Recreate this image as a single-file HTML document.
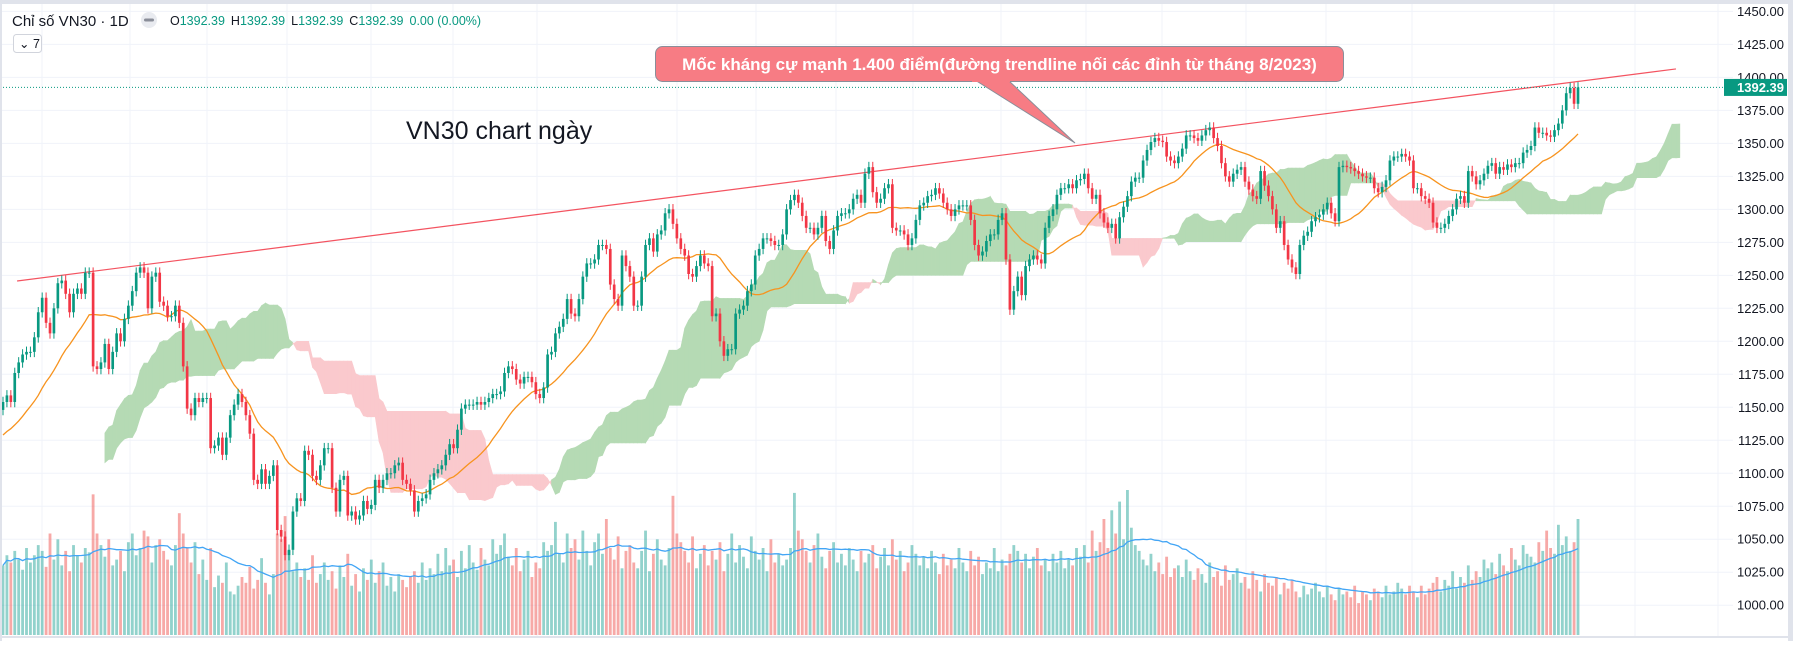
<!DOCTYPE html>
<html><head><meta charset="utf-8">
<style>
html,body{margin:0;padding:0;background:#fff;}
body{width:1793px;height:641px;overflow:hidden;font-family:"Liberation Sans","Noto Sans CJK SC",sans-serif;}
svg text{font-family:"Liberation Sans","Noto Sans CJK SC",sans-serif;}
</style></head>
<body>
<svg id="chart" width="1793" height="641" viewBox="0 0 1793 641" xmlns="http://www.w3.org/2000/svg">
<rect x="0" y="0" width="1793" height="641" fill="#ffffff"/>
<g id="grid"></g>
<g id="volume"></g>
<g id="cloud"></g>
<g id="lines"></g>
<g id="candles"></g>
<g id="axis"></g>
<rect x="0" y="0" width="1793" height="4" fill="#e0e3eb"/>
<rect x="0" y="0" width="2" height="641" fill="#e0e3eb"/>
<rect x="1788" y="0" width="5" height="641" fill="#e0e3eb"/>
<line x1="0" y1="637" x2="1788" y2="637" stroke="#e0e3eb" stroke-width="2"/>
<g>
<text x="12" y="26" font-size="15" fill="#131722">Chỉ số VN30 · 1D</text>
<circle cx="149" cy="20" r="8" fill="#e9ebf0"/>
<rect x="144" y="18.5" width="10" height="3" rx="1.5" fill="#8a8e99"/>
<text x="170" y="25" font-size="12.5"><tspan fill="#131722">O</tspan><tspan fill="#089981">1392.39</tspan><tspan fill="#131722" dx="6">H</tspan><tspan fill="#089981">1392.39</tspan><tspan fill="#131722" dx="6">L</tspan><tspan fill="#089981">1392.39</tspan><tspan fill="#131722" dx="6">C</tspan><tspan fill="#089981">1392.39</tspan><tspan fill="#089981" dx="6">0.00 (0.00%)</tspan></text>
<rect x="13.5" y="34.5" width="28" height="18" rx="3" fill="#fff" stroke="#d1d4dc"/>
<text x="19" y="48" font-size="12.5" fill="#131722">⌄ 7</text>
</g>
<text x="406" y="139" font-size="25" fill="#131722">VN30 chart ngày</text>
<g>
<polygon points="975,80 1008,80 1075,143" fill="#f77c84" stroke="#8a8e99" stroke-width="1"/>
<rect x="655.5" y="46.5" width="688" height="35" rx="7" fill="#f77c84" stroke="#8a8e99" stroke-width="1"/>
<rect x="972" y="78" width="38" height="4" fill="#f77c84"/>
<text x="999.5" y="70" font-size="17" font-weight="bold" fill="#ffffff" text-anchor="middle">Mốc kháng cự mạnh 1.400 điểm(đường trendline nối các đỉnh từ tháng 8/2023)</text>
</g>
</svg>
<script>
// closes before the visible window (only used for indicator warm-up; not drawn)
const preCloses = [
1085,1080,1076,1070,1066,1072,1078,1074,1068,1062,
1066,1070,1075,1082,1088,1084,1090,1096,1092,1098,
1104,1100,1095,1102,1108,1112,1106,1100,1096,1104,
1110,1116,1112,1106,1112,1118,1124,1120,1114,1120,
1126,1130,1124,1118,1126,1132,1138,1134,1140,1146,
1150,1148
];
const closes = [
1154,1159,1154,1176,1184,1190,1192,1192,1203,1222,
1233,1214,1206,1225,1244,1246,1236,1222,1236,1240,
1236,1252,1252,1181,1179,1184,1198,1179,1192,1206,
1200,1217,1227,1238,1252,1256,1252,1225,1249,1252,
1230,1227,1219,1219,1227,1214,1181,1149,1144,1157,
1154,1157,1157,1119,1121,1127,1114,1127,1144,1152,
1160,1154,1144,1130,1095,1092,1103,1092,1098,1106,
1057,1052,1038,1042,1071,1081,1079,1117,1114,1098,
1095,1106,1119,1119,1089,1071,1095,1098,1068,1071,
1065,1068,1079,1073,1076,1095,1089,1095,1100,1100,
1106,1108,1095,1092,1087,1071,1079,1081,1084,1095,
1100,1103,1106,1114,1122,1119,1133,1149,1152,1152,
1152,1154,1152,1154,1157,1160,1160,1162,1176,1181,
1179,1171,1168,1173,1173,1169,1160,1157,1165,1190,
1192,1206,1211,1217,
1232,1221,1219,1232,1249,1259,1259,1262,1273,1273,1270,1243,1232,1227,1265,1257,1249,1227,1227,1249,
1273,1278,1268,1281,1284,1297,1300,1289,1278,1270,1265,1251,1249,1257,1265,1259,1257,1219,1221,1200,
1189,1194,1194,1221,1224,1227,1238,1243,1265,1270,1278,1278,1276,1273,1273,1281,1300,1307,1311,1305,
1295,1286,1286,1281,1286,1295,1276,1270,1284,1295,1297,1297,1300,1308,1311,1305,1327,1332,1313,1305,
1308,1316,1319,1286,1284,1284,1281,1273,1278,1292,1303,1305,1310,1311,1316,1312,1305,1300,1295,1300,
1303,1303,1303,1292,1273,1265,1268,1276,1281,1281,1292,1297,1262,1224,1238,1249,1235,1257,1262,1265,
1262,1259,1286,1295,1300,1311,1316,1316,1319,1316,1322,1323,1327,1316,1308,1311,
1297,1290,1286,1289,1278,1294,1302,1310,1321,1324,1324,1337,1345,1351,1354,1352,1351,1340,1337,1335,
1340,1346,1356,1356,1354,1352,1356,1360,1362,1354,1348,1335,1325,1321,1327,1330,1332,1321,1315,1310,
1308,1329,1318,1310,1300,1286,1291,1273,1262,1256,1251,1273,1280,1283,1291,1294,1296,1300,1305,1297,
1291,1332,1333,1332,1331,1329,1327,1325,1324,1324,1316,1313,1317,1322,1337,1340,1340,1342,1340,1337,
1316,1316,1310,1308,1305,1290,1286,1286,1289,1295,1300,1308,1310,1305,1329,1325,1319,1322,1327,1333,
1335,1327,1332,1330,1334,1332,1335,1335,1343,1345,1348,1362,1358,1358,1356,1355,1360,1365,1375,1388,
1392,1380,1392.39
];
const volumes = [
48,55,50,58,52,45,60,50,55,62,58,47,70,52,66,48,58,44,62,55,
50,60,57,97,70,62,54,66,48,52,58,44,64,70,55,60,72,68,50,62,
66,58,52,48,62,84,70,60,50,64,42,52,38,60,33,41,36,50,30,28,
34,40,36,47,32,38,53,36,28,42,70,66,82,58,44,50,40,46,38,55,
36,42,50,38,44,32,48,40,56,34,42,30,46,38,52,36,44,50,34,40,
30,42,38,33,40,44,36,50,38,46,42,56,44,60,48,52,40,58,46,62,
50,45,60,52,48,66,56,62,70,54,48,60,44,52,58,40,50,46,64,58,
62,78,56,50,70,60,66,52,72,58,48,64,70,56,80,60,52,68,46,58,
62,50,46,58,72,44,56,66,52,48,60,96,70,64,58,50,68,46,56,62,
48,58,52,64,44,56,70,50,62,54,46,68,58,52,60,44,66,50,56,48,
52,60,98,72,66,58,50,62,70,54,46,58,64,50,56,48,60,52,44,58,
50,56,62,46,54,60,48,66,52,58,44,50,62,56,48,54,46,58,50,42,
56,48,52,46,60,50,44,58,48,54,42,50,46,60,44,52,48,56,62,58,
50,56,46,54,60,48,52,44,56,50,58,46,52,48,60,54,62,50,72,58,
64,80,60,86,70,92,66,100,74,62,58,52,48,56,44,50,42,54,40,46,
48,40,52,44,38,46,42,36,50,40,44,34,48,38,42,46,36,40,32,44,
38,30,42,36,34,40,28,36,32,38,30,26,34,28,32,36,30,26,34,28,
24,32,28,30,26,34,22,30,28,24,32,30,26,34,28,30,36,32,28,34,
30,26,34,28,32,36,40,30,38,34,44,32,40,36,48,38,44,40,52,46,
50,42,56,48,44,60,52,48,62,56,54,50,64,58,72,60,56,76,62,68,
58,64,80,70,74,66,58,60
];
const priceTicks = [1450,1425,1400,1375,1350,1325,1300,1275,1250,1225,1200,1175,1150,1125,1100,1075,1050,1025,1000];
const trendStart = [3.6, 1245.7];
const trendEnd = [427, 1406.4];
const lastPrice = 1392.39;

const NS = "http://www.w3.org/2000/svg";
const N = closes.length;
const P = preCloses.length;
const X0 = 3, XL = 1578;
const step = (XL - X0) / (N - 1);
function xOf(i){ return X0 + i * step; }
function yOf(p){ return 11.4 + (1450 - p) * 1.3196; }
function vy(v){ return 635 - v * 1.45; }
function mk(tag, attrs, parent){
  const el = document.createElementNS(NS, tag);
  for (const k in attrs) el.setAttribute(k, attrs[k]);
  parent.appendChild(el);
  return el;
}
const gGrid = document.getElementById('grid');
const gVol = document.getElementById('volume');
const gCloud = document.getElementById('cloud');
const gLines = document.getElementById('lines');
const gCandles = document.getElementById('candles');
const gAxis = document.getElementById('axis');

priceTicks.forEach(p => {
  const l = mk('line', {x1:0, x2:1733, y1:yOf(p), y2:yOf(p), stroke:'#f0f3fa', 'stroke-width':1}, gGrid);
  
  
});
[42,130,207,287,371,453,537,677,756,836,913,1001,1086,1162,1246,1326,1412,1554,1635,1718].forEach(x => {
  const l = mk('line', {x1:x, x2:x, y1:4, y2:637, stroke:'#f0f3fa', 'stroke-width':1}, gGrid);
  
  
});

// full series including warm-up
const all = preCloses.concat(closes);
const allOpen = all.map((c, i) => i === 0 ? c : all[i - 1]);
const allHigh = all.map((c, i) => Math.max(c, allOpen[i]) + 4);
const allLow = all.map((c, i) => Math.min(c, allOpen[i]) - 4);
const opens = allOpen.slice(P), highs = allHigh.slice(P), lows = allLow.slice(P);

volumes.forEach((v, i) => {
  if (i >= N) return;
  const up = closes[i] >= opens[i];
  const r = mk('rect', {x:xOf(i) - step * 0.36, y:vy(v), width:step * 0.72, height:635 - vy(v),
    fill: up ? 'rgba(38,166,154,0.5)' : 'rgba(239,83,80,0.5)'}, gVol);
  
  
});
(function(){
  let d = '';
  for (let i = 0; i < Math.min(N, volumes.length); i++) {
    const s = Math.max(0, i - 19);
    let sum = 0; for (let k = s; k <= i; k++) sum += volumes[k];
    d += (i ? 'L' : 'M') + xOf(i).toFixed(1) + ' ' + vy(sum / (i - s + 1)).toFixed(1);
  }
  const p = mk('path', {d:d, fill:'none', stroke:'#42a5f5', 'stroke-width':1.3}, gVol);
  
  
})();

function mid(i, len){
  const s = Math.max(0, i - len + 1);
  let hh = -Infinity, ll = Infinity;
  for (let k = s; k <= i; k++){ hh = Math.max(hh, allHigh[k]); ll = Math.min(ll, allLow[k]); }
  return (hh + ll) / 2;
}
const SHIFT = 26;
// cloud value plotted at visible index j comes from full index (j + P - SHIFT)
for (let j = 0; j < N - 1 + SHIFT; j++){
  const a = j + P - SHIFT, b = a + 1;
  if (a < 52) continue;
  const a0 = (mid(a, 9) + mid(a, 26)) / 2, a1 = (mid(b, 9) + mid(b, 26)) / 2;
  const b0 = mid(a, 52), b1 = mid(b, 52);
  const col = (a0 + a1) >= (b0 + b1) ? '#b5dab4' : '#fac9cd';
  const pts = [xOf(j) + ',' + yOf(a0), xOf(j + 1) + ',' + yOf(a1), xOf(j + 1) + ',' + yOf(b1), xOf(j) + ',' + yOf(b0)].join(' ');
  const poly = mk('polygon', {points:pts, fill:col, stroke:col, 'stroke-width':0.6}, gCloud);
  
  
}

(function(){
  let d = '';
  for (let i = 0; i < N; i++){
    const f = i + P;
    let sum = 0; for (let k = f - 19; k <= f; k++) sum += all[k];
    d += (i ? 'L' : 'M') + xOf(i).toFixed(1) + ' ' + yOf(sum / 20).toFixed(1);
  }
  const p = mk('path', {d:d, fill:'none', stroke:'#f7931e', 'stroke-width':1.3}, gLines);
  
  
})();

(function(){
  const t = mk('line', {x1:xOf(trendStart[0]), y1:yOf(trendStart[1]), x2:xOf(trendEnd[0]), y2:yOf(trendEnd[1]), stroke:'#f23645', 'stroke-width':1.2, opacity:0.85}, gLines);
  
  
  const d = mk('line', {x1:0, x2:1733, y1:yOf(lastPrice), y2:yOf(lastPrice), stroke:'#089981', 'stroke-width':1, 'stroke-dasharray':'1 2'}, gLines);
  
  
})();

for (let i = 0; i < N; i++){
  const up = closes[i] >= opens[i];
  const col = up ? '#089981' : '#f23645';
  const x = xOf(i);
  const w = mk('line', {x1:x, x2:x, y1:yOf(highs[i]), y2:yOf(lows[i]), stroke:col, 'stroke-width':1}, gCandles);
  
  
  const top = yOf(Math.max(opens[i], closes[i]));
  const h = Math.max(1, yOf(Math.min(opens[i], closes[i])) - top);
  const b = mk('rect', {x:x - step * 0.34, y:top, width:step * 0.68, height:h, fill:col}, gCandles);
  
  
}

priceTicks.forEach(p => {
  const t = mk('text', {x:1784, y:yOf(p) + 4.5, 'font-size':13, fill:'#131722', 'text-anchor':'end'}, gAxis);
  t.textContent = p.toFixed(2);
  
  
});
(function(){
  const yy = yOf(lastPrice);
  const r = mk('rect', {x:1724, y:yy - 8.5, width:63, height:17, fill:'#089981'}, gAxis);
  
  
  const t = mk('text', {x:1784, y:yy + 4.5, 'font-size':13, 'font-weight':'bold', fill:'#ffffff', 'text-anchor':'end'}, gAxis);
  t.textContent = lastPrice.toFixed(2);
  
  
})();
</script>
</body></html>
